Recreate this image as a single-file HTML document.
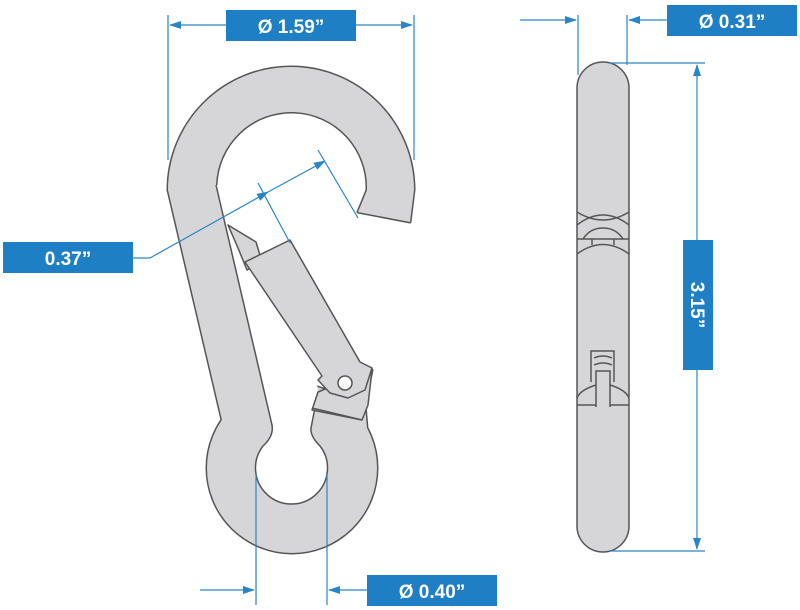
<!DOCTYPE html>
<html><head><meta charset="utf-8"><style>
html,body{margin:0;padding:0;background:#fff;}
svg{display:block}
text{font-family:"Liberation Sans",sans-serif;font-weight:bold;fill:#fff}
</style></head><body>
<svg width="800" height="610" viewBox="0 0 800 610" xmlns="http://www.w3.org/2000/svg">
<defs>
<marker id="ar" markerWidth="12" markerHeight="8" refX="11" refY="4" orient="auto" markerUnits="userSpaceOnUse">
<path d="M0,0 L12,4 L0,8 z" fill="#2a85c6"/></marker>
</defs>
<g stroke="#555" stroke-width="3" fill="#555" stroke-linejoin="round">
<path d="M168,190 A123,123 0 0 1 414,190 L410,222 L358,212 L363,200 L367,190 A75,75 0 0 0 216,185 Z"/>
<polygon points="168,190 190,175 216,185 272,425 222,420"/>
<circle cx="292" cy="468" r="85"/>
<polygon points="318,392 372,370 365,405 368,440 308,440"/>
</g>
<g fill="#d6d6d8" stroke="none">
<path d="M168,190 A123,123 0 0 1 414,190 L410,222 L358,212 L363,200 L367,190 A75,75 0 0 0 216,185 Z"/>
<polygon points="168,190 190,175 216,185 272,425 222,420"/>
<circle cx="292" cy="468" r="85"/>
<polygon points="318,392 372,370 365,405 368,440 308,440"/>
</g>
<path d="M216,185 L272,425 Q274,436 263,446 A36,36 0 1 0 320,446 Q310,436 311,428 L318,392 L300,240 L260,190 Z" fill="#fff"/>
<path d="M216,185 L272,425 Q274,436 263,446 A36,36 0 1 0 320,446 Q310,436 311,428 L318,392" fill="none" stroke="#555" stroke-width="1.5"/>
<g fill="#d6d6d8" stroke="#555" stroke-width="1.5" stroke-linejoin="round">
<polygon points="318,392 372,370 368,405 362,420 312,410"/>
<line x1="312" y1="408" x2="362" y2="420"/>
<polygon points="228,225 256,242 262,262 247,270 238,248"/>
<polygon points="245,262 290,240 360,362 372,368 365,390 348,398 330,393 318,380 322,376"/>
<circle cx="345" cy="383" r="7" fill="#fff"/>
</g>
<g stroke="#555" stroke-width="1.5" fill="none">
<rect x="577" y="62" width="52" height="490" rx="26" fill="#d6d6d8"/>
<path d="M577,212 Q603,228 629,212"/>
<path d="M577,225 Q603,205 629,225"/>
<line x1="577" y1="239" x2="629" y2="239"/>
<path d="M583,239 Q590,228 603,228 Q616,228 623,239"/>
<line x1="592" y1="239" x2="592" y2="245"/><line x1="614" y1="239" x2="614" y2="245"/>
<path d="M577,254 Q603,235 629,254"/>
<path d="M591,382 L591,351 L614,351 L614,382"/>
<path d="M594,358 Q603,354 612,358"/><path d="M594,365 Q603,361 612,365"/>
<path d="M596,407 L596,371 L610,371 L610,407"/>
<path d="M577,405 L596,405"/><path d="M610,405 L629,405"/>
<path d="M577,398 Q580,390 596,385"/><path d="M629,398 Q626,390 610,385"/>
</g>
<g stroke="#2a85c6" stroke-width="1.2" fill="none">
<line x1="168" y1="15" x2="168" y2="160"/>
<line x1="414" y1="15" x2="414" y2="160"/>
<line x1="226" y1="25" x2="170" y2="25" marker-end="url(#ar)"/>
<line x1="356" y1="25" x2="412" y2="25" marker-end="url(#ar)"/>
<line x1="133" y1="258" x2="150" y2="258"/>
<line x1="150" y1="258" x2="268" y2="192" marker-end="url(#ar)"/>
<line x1="268" y1="192" x2="325" y2="161" marker-end="url(#ar)"/>
<line x1="258" y1="183" x2="290" y2="243"/>
<line x1="318" y1="150" x2="358" y2="218"/>
<line x1="256" y1="475" x2="256" y2="605"/>
<line x1="327" y1="475" x2="327" y2="605"/>
<line x1="200" y1="590" x2="254" y2="590" marker-end="url(#ar)"/>
<line x1="367" y1="590" x2="329" y2="590" marker-end="url(#ar)"/>
<line x1="578" y1="15" x2="578" y2="75"/>
<line x1="627" y1="15" x2="627" y2="65"/>
<line x1="520" y1="20" x2="576" y2="20" marker-end="url(#ar)"/>
<line x1="667" y1="20" x2="629" y2="20" marker-end="url(#ar)"/>
<line x1="610" y1="63" x2="705" y2="63"/>
<line x1="610" y1="551" x2="705" y2="551"/>
<line x1="697" y1="240" x2="697" y2="65" marker-end="url(#ar)"/>
<line x1="697" y1="370" x2="697" y2="549" marker-end="url(#ar)"/>
</g>
<rect x="226" y="10" width="130" height="31" fill="#1f7fc4"/>
<text x="291" y="33" font-size="19" text-anchor="middle">Ø 1.59”</text>
<rect x="3" y="242" width="130" height="31" fill="#1f7fc4"/>
<text x="68" y="265" font-size="19" text-anchor="middle">0.37”</text>
<rect x="367" y="575" width="130" height="31" fill="#1f7fc4"/>
<text x="432" y="598" font-size="19" text-anchor="middle">Ø 0.40”</text>
<rect x="667" y="5" width="130" height="31" fill="#1f7fc4"/>
<text x="732" y="28" font-size="19" text-anchor="middle">Ø 0.31”</text>
<rect x="683" y="240" width="30" height="130" fill="#1f7fc4"/>
<text x="0" y="0" font-size="19" text-anchor="middle" transform="translate(691,305) rotate(90)">3.15”</text>
</svg>
</body></html>
